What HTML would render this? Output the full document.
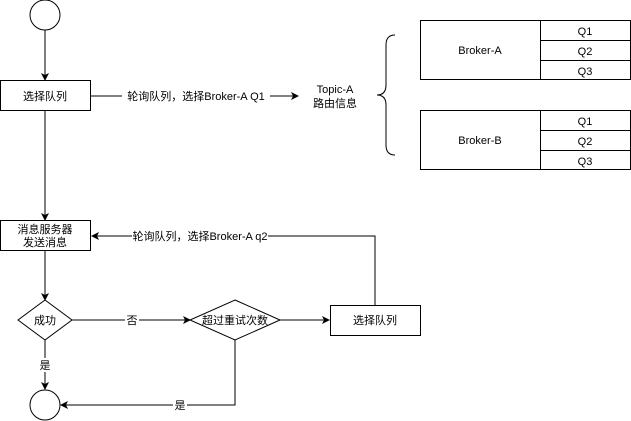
<!DOCTYPE html><html><head><style>body{margin:0;background:#fff}svg{display:block}text{font-family:"Liberation Sans","Noto Sans CJK SC",sans-serif;font-size:11px;fill:#000}</style></head><body>
<svg width="631" height="421" viewBox="0 0 631 421">
<defs><marker id="a" markerWidth="8" markerHeight="8" refX="7" refY="4" orient="auto" markerUnits="userSpaceOnUse"><path d="M0,0 L8,4 L0,8 L2,4 Z" fill="#000"/></marker></defs>
<g fill="none" stroke="#000" stroke-width="1">
<circle cx="45" cy="15" r="15" fill="#fff"/>
<line x1="45" y1="30" x2="45" y2="80" marker-end="url(#a)"/>
<rect x="0.5" y="80.5" width="90" height="30" fill="#fff"/>
<line x1="91" y1="96" x2="298" y2="96" marker-end="url(#a)"/>
<line x1="45" y1="111" x2="45" y2="220" marker-end="url(#a)"/>
<rect x="0.5" y="220.5" width="90" height="30" fill="#fff"/>
<line x1="45" y1="251" x2="45" y2="300" marker-end="url(#a)"/>
<path d="M45,300 L72,320 L45,340 L18,320 Z" fill="#fff"/>
<line x1="72" y1="320" x2="190" y2="320" marker-end="url(#a)"/>
<path d="M235,300 L280,320 L235,340 L190,320 Z" fill="#fff"/>
<line x1="280" y1="320" x2="329" y2="320" marker-end="url(#a)"/>
<rect x="330.5" y="305.5" width="90" height="30" fill="#fff"/>
<polyline points="375,305 375,236 92,236" marker-end="url(#a)"/>
<line x1="45" y1="340" x2="45" y2="389" marker-end="url(#a)"/>
<polyline points="235,340 235,405 61,405" marker-end="url(#a)"/>
<circle cx="45" cy="405" r="15" fill="#fff"/>
<path d="M395,35 Q386,35 386,45 L386,85 Q386,95 377,95 Q386,95 386,105 L386,145 Q386,155 395,155"/>
<rect x="420.5" y="20.5" width="210" height="59"/>
<line x1="540.5" y1="20" x2="540.5" y2="80"/><line x1="540" y1="40.5" x2="631" y2="40.5"/><line x1="540" y1="60.5" x2="631" y2="60.5"/>
<rect x="420.5" y="110.5" width="210" height="59"/>
<line x1="540.5" y1="110" x2="540.5" y2="170"/><line x1="540" y1="130.5" x2="631" y2="130.5"/><line x1="540" y1="150.5" x2="631" y2="150.5"/>
</g>
<g text-anchor="middle">
<text x="45" y="100">选择队列</text>
<rect x="122" y="89" width="148" height="14" fill="#fff"/>
<text x="196" y="100">轮询队列，选择Broker-A Q1</text>
<text x="335" y="93">Topic-A</text><text x="335" y="107">路由信息</text>
<text x="480" y="54">Broker-A</text><text x="585" y="35">Q1</text><text x="585" y="55">Q2</text><text x="585" y="75">Q3</text>
<text x="480" y="144">Broker-B</text><text x="585" y="125">Q1</text><text x="585" y="145">Q2</text><text x="585" y="165">Q3</text>
<text x="45" y="233">消息服务器</text><text x="45" y="246">发送消息</text>
<rect x="132" y="229" width="136" height="14" fill="#fff"/>
<text x="200" y="240">轮询队列，选择Broker-A q2</text>
<text x="45" y="324">成功</text>
<rect x="125" y="313" width="14" height="14" fill="#fff"/><text x="132" y="324">否</text>
<text x="235" y="324">超过重试次数</text>
<text x="375" y="324">选择队列</text>
<rect x="38" y="358" width="14" height="14" fill="#fff"/><text x="45" y="369">是</text>
<rect x="173" y="398" width="14" height="14" fill="#fff"/><text x="180" y="409">是</text>
</g>
</svg></body></html>
